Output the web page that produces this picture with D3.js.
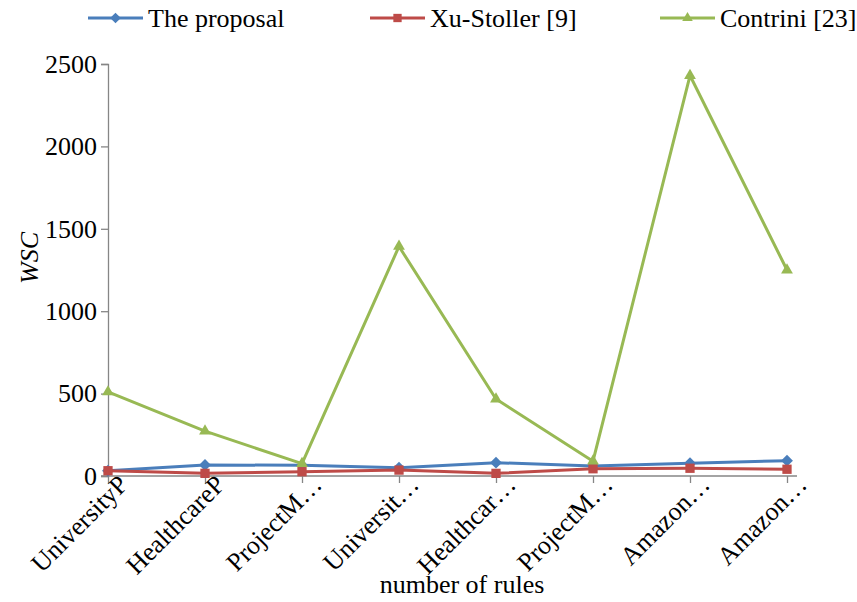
<!DOCTYPE html>
<html>
<head>
<meta charset="utf-8">
<script src="https://cdn.jsdelivr.net/npm/d3@7"></script>
</head>
<body style="margin:0">
<svg id="s" width="857" height="602" font-family="Liberation Serif"></svg>
<script>
// Rule sets on the x axis
const categories = ["UniversityP", "HealthcareP", "ProjectM…", "Universit…",
                    "Healthcar…", "ProjectM…", "Amazon…", "Amazon…"];

// WSC values per approach
const proposal   = [32, 67, 65, 50, 81, 61, 77, 93];
const xuStoller  = [32, 16, 26, 36, 16, 44, 47, 41];
const contrini   = [510, 272, 75, 1393, 467, 90, 2430, 1250];

const yTicks = [0, 500, 1000, 1500, 2000, 2500];

const FONT = "Liberation Serif";

const series = [
  { name: "The proposal",    values: proposal,  color: "#4A7EBB", symbol: d3.symbolDiamond2,  size: 90 },
  { name: "Xu-Stoller [9]",  values: xuStoller, color: "#BE4B48", symbol: d3.symbolSquare2,   size: 110 },
  { name: "Contrini [23]",   values: contrini,  color: "#98B954", symbol: d3.symbolTriangle2, size: 100 }
];

const svg = d3.select("#s");
const plot = { left: 108, right: 787, top: 64, bottom: 476 };

const x = d3.scalePoint()
  .domain(d3.range(categories.length))
  .range([plot.left, plot.right]);

const y = d3.scaleLinear()
  .domain([0, 2500])
  .range([plot.bottom, plot.top]);

const axisColor = "#868686";

// y axis
const yAxis = svg.append("g")
  .attr("transform", `translate(${plot.left},0)`)
  .call(d3.axisLeft(y).tickValues(yTicks).tickSize(7).tickPadding(4).tickFormat(d3.format("d")));
yAxis.attr("font-family", null).attr("font-size", null);
yAxis.select(".domain").attr("stroke", axisColor).attr("stroke-width", 1.3);
yAxis.selectAll(".tick line").attr("stroke", axisColor).attr("stroke-width", 1.3);
yAxis.selectAll(".tick text")
  .style("font-family", FONT)
  .attr("font-size", 26)
  .attr("fill", "#000");

// x axis baseline spanning slightly beyond the first and last categories
const xAxis = svg.append("g")
  .attr("transform", `translate(0,${plot.bottom})`)
  .call(d3.axisBottom(x).tickSize(7).tickSizeOuter(0).tickFormat(i => categories[i]));
xAxis.attr("font-family", null).attr("font-size", null);
xAxis.select(".domain")
  .attr("d", `M${plot.left - 7},0H${plot.right + 10}`)
  .attr("stroke", axisColor).attr("stroke-width", 1.3);
xAxis.selectAll(".tick line").attr("stroke", axisColor).attr("stroke-width", 1.3);
xAxis.selectAll(".tick text")
  .style("font-family", FONT)
  .attr("font-size", 26)
  .attr("fill", "#000")
  .attr("text-anchor", "end")
  .attr("dy", 0)
  .attr("y", 0)
  .attr("transform", "translate(21,10) rotate(-45)");

// series lines and markers
const line = d3.line()
  .x((d, i) => x(i))
  .y(d => y(d));

series.forEach(s => {
  svg.append("path")
    .datum(s.values)
    .attr("fill", "none")
    .attr("stroke", s.color)
    .attr("stroke-width", 3)
    .attr("stroke-linejoin", "round")
    .attr("d", line);
  svg.append("g").selectAll("path")
    .data(s.values)
    .join("path")
    .attr("transform", (d, i) => `translate(${x(i)},${y(d)})`)
    .attr("d", d3.symbol().type(s.symbol).size(s.size))
    .attr("fill", s.color);
});

// axis titles
svg.append("text")
  .attr("transform", "translate(38,258) rotate(-90)")
  .attr("text-anchor", "middle")
  .style("font-family", FONT)
  .attr("font-size", 26)
  .style("font-style", "italic")
  .text("WSC");

svg.append("text")
  .attr("x", 462)
  .attr("y", 593)
  .attr("text-anchor", "middle")
  .style("font-family", FONT)
  .attr("font-size", 26)
  .text("number of rules");

// legend
const legendX = [88, 370, 660];
const legend = svg.append("g");
series.forEach((s, i) => {
  const g = legend.append("g").attr("transform", `translate(${legendX[i]},18)`);
  g.append("line")
    .attr("x1", 0).attr("x2", 55)
    .attr("y1", 0).attr("y2", 0)
    .attr("stroke", s.color).attr("stroke-width", 3);
  g.append("path")
    .attr("transform", "translate(27.5,0)")
    .attr("d", d3.symbol().type(s.symbol).size(s.size * 0.8))
    .attr("fill", s.color);
  g.append("text")
    .attr("x", 60)
    .attr("y", 9)
    .style("font-family", FONT)
    .attr("font-size", 26)
    .text(s.name);
});
</script>
</body>
</html>
